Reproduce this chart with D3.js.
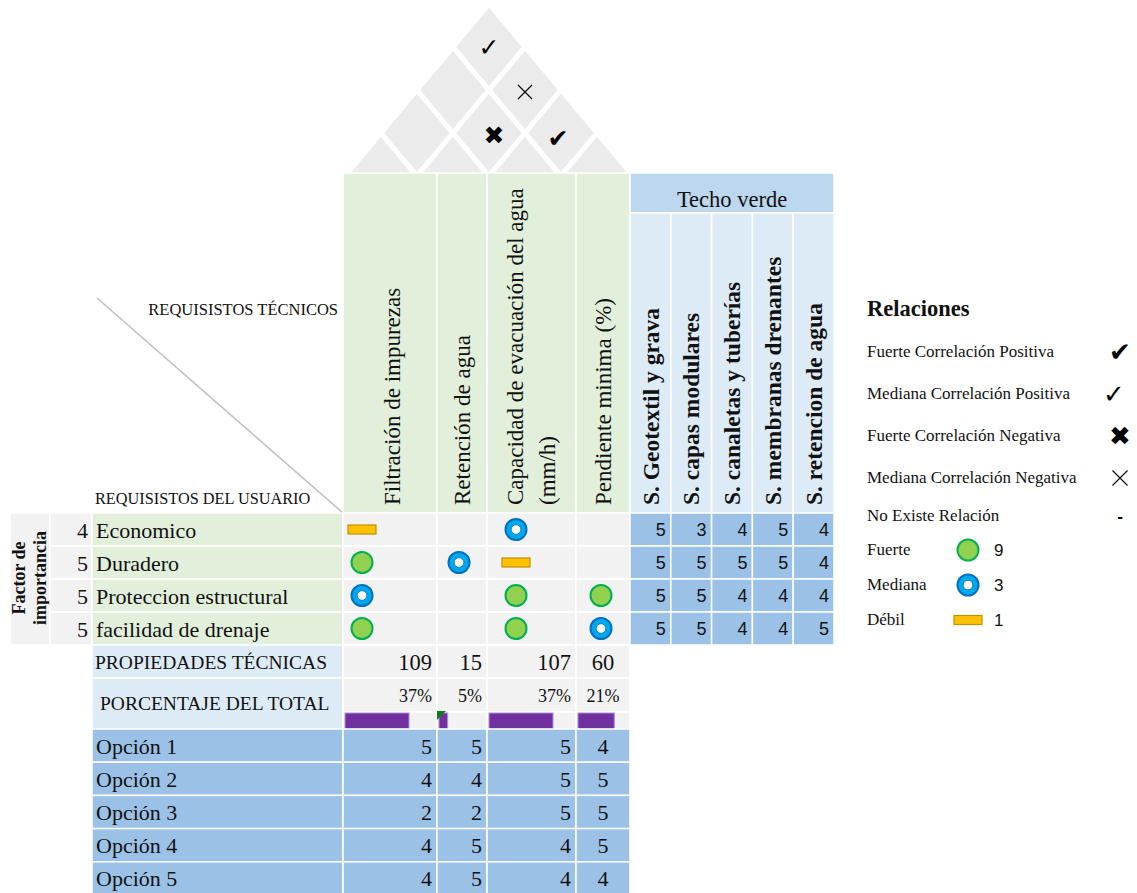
<!DOCTYPE html>
<html>
<head>
<meta charset="utf-8">
<script src="https://cdn.jsdelivr.net/npm/d3@7"></script>
<style>
  body { margin: 0; background: #ffffff; }
  svg { display: block; }
</style>
</head>
<body>
<svg id="chart" width="1137" height="893"></svg>
<script>
// ---------------- DATA ----------------
const techReqs = [
  ["Filtración de impurezas"],
  ["Retención de agua"],
  ["Capacidad de evacuación del agua", "(mm/h)"],
  ["Pendiente minima (%)"]
];
const userReqs = ["Economico", "Duradero", "Proteccion estructural", "facilidad de drenaje"];
const importance = [4, 5, 5, 5];
// relation strength (9 fuerte, 3 mediana, 1 débil, 0 ninguna) per user req x tech req
const relations = [
  [1, 0, 3, 0],
  [9, 3, 1, 0],
  [3, 0, 9, 9],
  [9, 0, 9, 3]
];
const techoTitle = "Techo verde";
const techoNames = ["S. Geotextil y grava", "S. capas modulares", "S. canaletas y tuberías", "S. membranas drenantes", "S. retencion de agua"];
const techoValues = [
  [5, 3, 4, 5, 4],
  [5, 5, 5, 5, 4],
  [5, 5, 4, 4, 4],
  [5, 5, 4, 4, 5]
];
const techTotals = [109, 15, 107, 60];
const techPercents = [37, 5, 37, 21];
const optionNames = ["Opción 1", "Opción 2", "Opción 3", "Opción 4", "Opción 5"];
const optionValues = [
  [5, 5, 5, 4],
  [4, 4, 5, 5],
  [2, 2, 5, 5],
  [4, 5, 4, 5],
  [4, 5, 4, 4]
];
// roof correlations between technical requirements (index pairs)
const roofCorrelations = [
  { a: 0, b: 3, type: "medPos" },
  { a: 1, b: 3, type: "medNeg" },
  { a: 1, b: 2, type: "strongNeg" },
  { a: 2, b: 3, type: "strongPos" }
];
const legendTitle = "Relaciones";
const legendCorr = [
  { label: "Fuerte Correlación Positiva", type: "strongPos" },
  { label: "Mediana Correlación Positiva", type: "medPos" },
  { label: "Fuerte Correlación Negativa", type: "strongNeg" },
  { label: "Mediana Correlación Negativa", type: "medNeg" },
  { label: "No Existe Relación", type: "none" }
];
const legendStrength = [
  { label: "Fuerte", value: 9 },
  { label: "Mediana", value: 3 },
  { label: "Débil", value: 1 }
];

// ---------------- LAYOUT ----------------
const SERIF = "'Liberation Serif', 'Times New Roman', serif";
const SANS = "'Liberation Sans', Arial, sans-serif";
const SYM = "'DejaVu Sans', sans-serif";
const C = {
  green: "#e2efda", gray: "#f2f2f2", blueDark: "#9bc2e6",
  blueMid: "#bdd7ee", blueLight: "#ddebf7", roof: "#ebebeb"
};
const colEdges = [343, 437, 487, 576, 630];
const symOffsets = [19, 22, 29, 25];
const headerTop = 173, headerBottom = 513, bodyBottom = 645;

const techIdx = d3.range(techReqs.length);
const xCol = d3.scaleOrdinal().domain(techIdx).range(colEdges.slice(0, 4));
const wCol = i => colEdges[i + 1] - colEdges[i];
const yRow = d3.scaleBand().domain(userReqs).range([headerBottom, bodyBottom]);
const xTecho = d3.scaleBand().domain(techoNames).range([630, 834]);
const yOpt = d3.scaleBand().domain(optionNames).range([729, 895]);
const barScale = d3.scaleLinear().domain([0, d3.max(techPercents)]).range([0, 64]);

const svg = d3.select("#chart");

function cell(g, x, y, w, h, fill) {
  g.append("rect").attr("x", x).attr("y", y).attr("width", w).attr("height", h)
    .attr("fill", fill).attr("stroke", "#ffffff").attr("stroke-width", 1.5);
}

const symDefs = {
  strongPos: { ch: "\u2714", size: 25, dx: -3, dy: 5 },
  medPos: { ch: "\u2713", size: 25, dx: 0, dy: 0 },
  strongNeg: { ch: "\u2716", size: 25, dx: 5, dy: 2 },
  medNeg: { ch: null, size: 14, dx: 0, dy: 2 },
  none: { ch: "-", size: 18, dx: 0, dy: 0 }
};
function drawCorr(g, type, x, y, sizeAdj) {
  const s = symDefs[type];
  if (type === "medNeg") {
    const h = (s.size + (sizeAdj || 0)) / 2;
    g.append("path")
      .attr("d", `M${x - h},${y - h}L${x + h},${y + h}M${x + h},${y - h}L${x - h},${y + h}`)
      .attr("stroke", "#111").attr("stroke-width", 1.3).attr("fill", "none");
    return;
  }
  g.append("text").attr("x", x).attr("y", y).attr("dy", "0.35em").attr("text-anchor", "middle")
    .attr("font-family", type === "none" ? SANS : SYM)
    .attr("font-weight", type === "none" ? "bold" : "normal")
    .attr("font-size", s.size + (sizeAdj || 0)).attr("fill", "#000").text(s.ch);
}

// ---------------- ROOF ----------------
const roof = svg.append("g");
svg.append("clipPath").attr("id", "roofClip").append("rect")
  .attr("x", 300).attr("y", 0).attr("width", 400).attr("height", headerTop);
const roofBase = 176, hw = 36, hh = 43, p0 = 381;
const rx = d3.scaleLinear().domain([0, 1]).range([p0, p0 + hw]);   // x by (a+b)
const ry = d3.scaleLinear().domain([0, 1]).range([roofBase, roofBase - hh]); // y by (b-a)
const diamonds = [];
for (let a = 0; a < 4; a++) for (let b = a; b < 4; b++) diamonds.push({ a, b });
roof.append("g").attr("clip-path", "url(#roofClip)")
  .selectAll("polygon").data(diamonds).join("polygon")
  .attr("points", d => {
    const cx = rx(d.a + d.b), cy = ry(d.b - d.a);
    return [[cx, cy - hh], [cx + hw, cy], [cx, cy + hh], [cx - hw, cy]].join(" ");
  })
  .attr("fill", C.roof).attr("stroke", "#ffffff").attr("stroke-width", 5).attr("stroke-linejoin", "miter");
roofCorrelations.forEach(d => {
  drawCorr(roof, d.type, rx(d.a + d.b) + symDefs[d.type].dx, ry(d.b - d.a) + symDefs[d.type].dy);
});

// ---------------- HEADER ----------------
const head = svg.append("g");
techIdx.forEach(i => cell(head, xCol(i), headerTop, wCol(i), headerBottom - headerTop, C.green));
const headerCenters = [392, 462, 531, 603];
techReqs.forEach((lines, i) => {
  const n = lines.length;
  lines.forEach((ln, k) => {
    const cx = n === 1 ? headerCenters[i] : headerCenters[i] - 16 + k * 32;
    head.append("text")
      .attr("transform", `translate(${cx},505) rotate(-90)`)
      .attr("dy", "0.35em").attr("font-family", SERIF).attr("font-size", 23)
      .attr("fill", "#111").text(ln);
  });
});
// techo verde header
cell(head, 630, headerTop, 204, 40, C.blueMid);
head.append("text").attr("x", 732).attr("y", 207).attr("text-anchor", "middle")
  .attr("font-family", SERIF).attr("font-size", 22.5).attr("fill", "#111").text(techoTitle);
techoNames.forEach(nm => {
  cell(head, xTecho(nm), 213, xTecho.bandwidth(), headerBottom - 213, C.blueLight);
  head.append("text")
    .attr("transform", `translate(${xTecho(nm) + xTecho.bandwidth() / 2},505) rotate(-90)`)
    .attr("dy", "0.35em").attr("font-family", SERIF).attr("font-weight", "bold")
    .attr("font-size", 23.5).attr("fill", "#111").text(nm);
});
// diagonal corner
head.append("line").attr("x1", 97).attr("y1", 298).attr("x2", 343).attr("y2", 513)
  .attr("stroke", "#bfbfbf").attr("stroke-width", 1.5);
head.append("text").attr("x", 338).attr("y", 315).attr("text-anchor", "end")
  .attr("font-family", SERIF).attr("font-size", 16.5).attr("fill", "#111").text("REQUISISTOS TÉCNICOS");
head.append("text").attr("x", 95).attr("y", 504)
  .attr("font-family", SERIF).attr("font-size", 16.3).attr("fill", "#111").text("REQUISISTOS DEL USUARIO");

// ---------------- BODY ----------------
const body = svg.append("g");
cell(body, 10, headerBottom, 40, bodyBottom - headerBottom, C.gray);
body.append("text").attr("transform", `translate(25,578) rotate(-90)`).attr("text-anchor", "middle")
  .attr("font-family", SERIF).attr("font-weight", "bold").attr("font-size", 18).attr("fill", "#111").text("Factor de");
body.append("text").attr("transform", `translate(46,578) rotate(-90)`).attr("text-anchor", "middle")
  .attr("font-family", SERIF).attr("font-weight", "bold").attr("font-size", 18).attr("fill", "#111").text("importancia");

userReqs.forEach((r, ri) => {
  const y = yRow(r), h = yRow.bandwidth(), cy = y + h / 2;
  cell(body, 50, y, 42, h, C.gray);
  cell(body, 92, y, 251, h, C.green);
  body.append("text").attr("x", 88).attr("y", cy + 8).attr("text-anchor", "end")
    .attr("font-family", SERIF).attr("font-size", 22).attr("fill", "#111").text(importance[ri]);
  body.append("text").attr("x", 96).attr("y", cy + 8)
    .attr("font-family", SERIF).attr("font-size", 22).attr("fill", "#111").text(r);
  techIdx.forEach(ci => cell(body, xCol(ci), y, wCol(ci), h, C.gray));
  techoNames.forEach((nm, ti) => {
    cell(body, xTecho(nm), y, xTecho.bandwidth(), h, C.blueDark);
    body.append("text").attr("x", xTecho(nm) + xTecho.bandwidth() - 5).attr("y", cy + 6.5)
      .attr("text-anchor", "end").attr("font-family", SANS).attr("font-size", 18)
      .attr("fill", "#111").text(techoValues[ri][ti]);
  });
});

function drawStrength(g, v, cx, cy) {
  if (v === 9) {
    g.append("circle").attr("cx", cx).attr("cy", cy).attr("r", 10.5)
      .attr("fill", "#92d050").attr("stroke", "#00b050").attr("stroke-width", 2);
  } else if (v === 3) {
    g.append("circle").attr("cx", cx).attr("cy", cy).attr("r", 10.5)
      .attr("fill", "#00a8ec").attr("stroke", "#0070c0").attr("stroke-width", 2);
    g.append("circle").attr("cx", cx).attr("cy", cy).attr("r", 4.8)
      .attr("fill", "#ffffff").attr("stroke", "#0070c0").attr("stroke-width", 0.8);
  } else if (v === 1) {
    g.append("rect").attr("x", cx - 14).attr("y", cy - 4.5).attr("width", 28).attr("height", 9)
      .attr("fill", "#ffc000").attr("stroke", "#c09000").attr("stroke-width", 1.2);
  }
}
relations.forEach((row, ri) => {
  const cy = yRow(userReqs[ri]) + yRow.bandwidth() / 2;
  row.forEach((v, ci) => drawStrength(body, v, xCol(ci) + symOffsets[ci], cy));
});

// ---------------- BOTTOM ----------------
const bot = svg.append("g");
cell(bot, 92, 645, 251, 33, C.blueLight);
bot.append("text").attr("x", 95).attr("y", 669).attr("font-family", SERIF).attr("font-size", 19.5)
  .attr("fill", "#111").text("PROPIEDADES TÉCNICAS");
cell(bot, 92, 678, 251, 51, C.blueLight);
bot.append("text").attr("x", 100).attr("y", 710).attr("font-family", SERIF).attr("font-size", 19.5)
  .attr("fill", "#111").text("PORCENTAJE DEL TOTAL");

function valX(ci) { return ci === 3 ? xCol(ci) + 27 : xCol(ci) + wCol(ci) - 5; }
function valAnchor(ci) { return ci === 3 ? "middle" : "end"; }

techIdx.forEach(ci => {
  cell(bot, xCol(ci), 645, wCol(ci), 33, C.gray);
  cell(bot, xCol(ci), 678, wCol(ci), 34, C.gray);
  cell(bot, xCol(ci), 712, wCol(ci), 17, C.gray);
  bot.append("text").attr("x", valX(ci)).attr("y", 670).attr("text-anchor", valAnchor(ci))
    .attr("font-family", SERIF).attr("font-size", 22.5).attr("fill", "#111").text(techTotals[ci]);
  bot.append("text").attr("x", valX(ci)).attr("y", 702).attr("text-anchor", valAnchor(ci))
    .attr("font-family", SERIF).attr("font-size", 18).attr("fill", "#111").text(techPercents[ci] + "%");
  bot.append("rect").attr("x", xCol(ci) + 2).attr("y", 713).attr("width", barScale(techPercents[ci]))
    .attr("height", 16).attr("fill", "#7030a0").attr("stroke", "#b090dd").attr("stroke-width", 1);
});
// small green error-indicator triangle
bot.append("polygon")
  .attr("points", [[xCol(1), 711], [xCol(1) + 9, 711], [xCol(1), 720]].join(" "))
  .attr("fill", "#0a7d1a");

optionNames.forEach((o, oi) => {
  const y = yOpt(o), h = yOpt.bandwidth(), cy = y + h / 2;
  cell(bot, 92, y, 251, h, C.blueDark);
  bot.append("text").attr("x", 96).attr("y", cy + 8).attr("font-family", SERIF).attr("font-size", 22)
    .attr("fill", "#111").text(o);
  techIdx.forEach(ci => {
    cell(bot, xCol(ci), y, wCol(ci), h, C.blueDark);
    bot.append("text").attr("x", valX(ci)).attr("y", cy + 8).attr("text-anchor", valAnchor(ci))
      .attr("font-family", SERIF).attr("font-size", 22).attr("fill", "#111").text(optionValues[oi][ci]);
  });
});

// ---------------- LEGEND ----------------
const leg = svg.append("g");
leg.append("text").attr("x", 867).attr("y", 316).attr("font-family", SERIF).attr("font-weight", "bold")
  .attr("font-size", 22.5).attr("fill", "#111").text(legendTitle);
const legY = d3.scaleLinear().domain([0, 1]).range([352, 394]);
legendCorr.forEach((d, i) => {
  const cy = legY(i) - (i === 4 ? 4 : 0);
  leg.append("text").attr("x", 867).attr("y", cy + 5).attr("font-family", SERIF).attr("font-size", 17)
    .attr("fill", "#111").text(d.label);
  drawCorr(leg, d.type, 1120 + (d.type === "medPos" ? -6 : 0), cy, d.type === "none" ? -1 : 1);
});
const legY2 = d3.scaleLinear().domain([0, 1]).range([550, 585]);
legendStrength.forEach((d, i) => {
  const cy = legY2(i);
  leg.append("text").attr("x", 867).attr("y", cy + 5).attr("font-family", SERIF).attr("font-size", 17)
    .attr("fill", "#111").text(d.label);
  drawStrength(leg, d.value, 968, cy);
  leg.append("text").attr("x", 994).attr("y", cy + 6).attr("font-family", SANS).attr("font-size", 17)
    .attr("fill", "#111").text(d.value);
});
</script>
</body>
</html>
